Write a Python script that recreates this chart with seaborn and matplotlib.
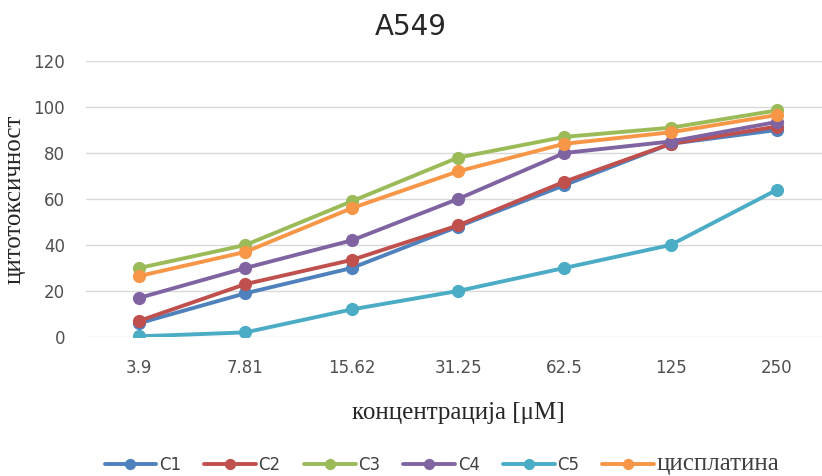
import matplotlib
matplotlib.use("Agg")
import matplotlib.pyplot as plt
import seaborn as sns
import pandas as pd

concentrations = ["3.9", "7.81", "15.62", "31.25", "62.5", "125", "250"]
series_names = ["C1", "C2", "C3", "C4", "C5", "цисплатина"]
c1 = [6, 19, 30, 48, 66, 84, 90]
c2 = [7, 23, 33.5, 48.5, 67.5, 84, 91.5]
c3 = [30, 40, 59, 78, 87, 91, 98.5]
c4 = [17, 30, 42, 60, 80, 85, 93.5]
c5 = [0.3, 2, 12, 20, 30, 40, 64]
cis = [26.5, 37, 56, 72, 84, 89, 96.5]
colors = ["#4F81BD", "#C0504D", "#9BBB59", "#8064A2", "#4BACC6", "#F79646"]

values = [c1, c2, c3, c4, c5, cis]
rows = []
for name, vals in zip(series_names, values):
    for i, (c, v) in enumerate(zip(concentrations, vals)):
        rows.append({"conc": c, "pos": i, "val": v, "series": name})
df = pd.DataFrame(rows)

sns.set_theme(style="white")
plt.rcParams["font.family"] = ["DejaVu Sans"]
SERIF = ["Liberation Serif", "DejaVu Serif"]

fig = plt.figure(figsize=(8.22, 4.76), dpi=100)
ax = fig.add_axes([86/822, 139/476, 744/822, 276/476])

sns.lineplot(data=df, x="pos", y="val", hue="series", hue_order=series_names,
             palette=colors, marker="o", markersize=9.5, markeredgewidth=0,
             linewidth=2.8, sort=False, ax=ax, legend=True)

ax.set_xlim(-0.5, 6.5)
ax.set_ylim(0, 120)
ax.set_yticks([0, 20, 40, 60, 80, 100, 120])
ax.set_xticks(range(len(concentrations)))
ax.set_xticklabels(concentrations)
ax.tick_params(axis="both", length=0, labelsize=12, colors="#505050")
ax.tick_params(axis="x", pad=16)
ax.tick_params(axis="y", pad=15)
ax.grid(axis="y", color="#D9D9D9", linewidth=1)
ax.set_axisbelow(True)
for s in ax.spines.values():
    s.set_visible(False)

ax.set_xlabel("концентрација [μM]", family=SERIF, fontsize=18, color="#262626", labelpad=18)
ax.set_ylabel("цитотоксичност", family=SERIF, fontsize=18, color="#262626", labelpad=6)
fig.text(0.5, 0.943, "A549", ha="center", va="center", fontsize=20, color="#262626")

handles, labels = ax.get_legend_handles_labels()
ax.get_legend().remove()
leg = fig.legend(handles, labels, loc="center", bbox_to_anchor=(442/822, 0.026),
                 ncol=6, frameon=False, fontsize=12, handlelength=3.1, columnspacing=1.4,
                 handletextpad=0.15, markerscale=0.85)
for t in leg.get_texts():
    if t.get_text() == "цисплатина":
        t.set_family(SERIF)
        t.set_fontsize(18)
    t.set_color("#404040")

fig.savefig("out.png", dpi=100, facecolor="white")
